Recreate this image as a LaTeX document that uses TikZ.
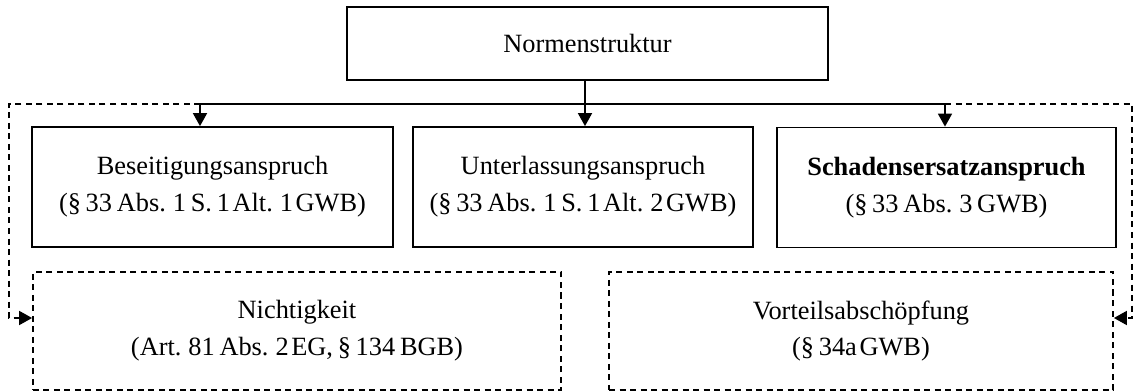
\documentclass[tikz,border=0pt]{standalone}
\usepackage{fontspec}
\setmainfont{Liberation Serif}
\usetikzlibrary{arrows.meta}
\newcommand{\tsp}{\kern0.1em}
\newcommand{\boxfont}{\fontsize{15}{21}\selectfont\spaceskip=0.18em\relax}
\tikzset{every picture/.style={x=0.2mm,y=-0.2mm,line width=1pt,every node/.style={rectangle, draw=black, align=center, font=\boxfont, inner sep=0pt}},
  dashbox/.style={dash pattern=on 1.2mm off 0.9mm},
  arr/.style={-{Triangle[length=2.6mm,width=2.8mm]}}}

\begin{document}
\begin{tikzpicture}
        \useasboundingbox (0,0) rectangle (1134,392);
        \node[minimum width=9.62cm, minimum height=1.46cm] (norm) at (587.5, 43.5) {Normenstruktur};
        \node[minimum width=7.22cm, minimum height=2.4cm] (besei) at (212.5, 187) {Beseitigungsanspruch\\(§ 33 Abs. 1 S. 1\tsp Alt. 1\tsp GWB)};
        \node[minimum width=6.8cm, minimum height=2.4cm] (unter) at (583, 187) {Unterlassungsanspruch\\(§ 33 Abs. 1 S. 1\tsp Alt. 2\tsp GWB)};
        \node[minimum width=6.78cm, minimum height=2.4cm] (schaden) at (946.5, 187.5) {\textbf{Schadensersatzanspruch}\\(§ 33 Abs. 3 GWB)};
        \node[dashbox, minimum width=10.56cm, minimum height=2.36cm] (nichtig) at (297, 331) {Nichtigkeit\\(Art. 81 Abs. 2\tsp EG, § 134 BGB)};
        \node[dashbox, minimum width=10.08cm, minimum height=2.36cm] (vorteil) at (861, 331) {Vorteilsabschöpfung\\(§ 34a\tsp GWB)};

        \coordinate (bl) at (200, 104);
        \coordinate (bm) at (585, 104);
        \coordinate (brr) at (945, 104);
        \coordinate (dl) at (9, 104);
        \coordinate (nl) at (9, 318);
        \coordinate (dr) at (1132, 104);
        \coordinate (vr) at (1132, 318);

        \draw (bl) -- (brr);
        \draw[arr] (bm |- norm.south) -- (bm |- unter.north);
        \foreach \from/\to in {
          bl/besei,
          brr/schaden}
        \draw[arr] (\from) -- (\from |- \to.north);

        \draw[dashbox, arr] (bl) -- (dl) -- (nl) -- (nichtig.west |- nl);
        \draw[dashbox, arr] (brr) -- (dr) -- (vr) -- (vorteil.east |- vr);
      \end{tikzpicture}
\end{document}
